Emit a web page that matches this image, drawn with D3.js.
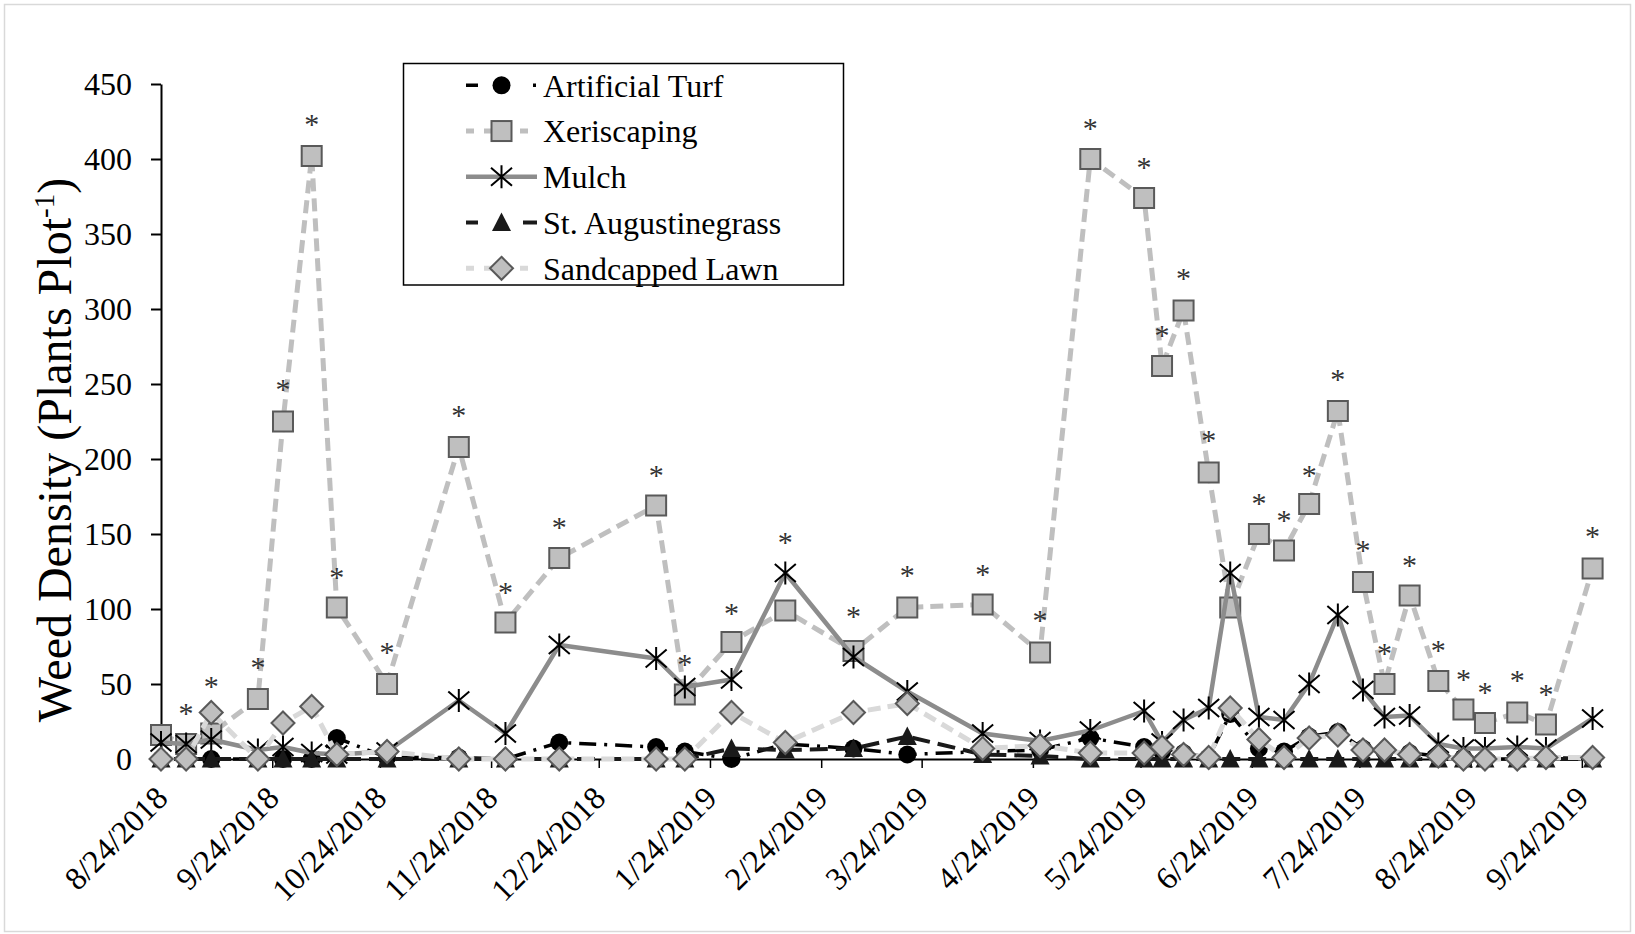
<!DOCTYPE html>
<html><head><meta charset="utf-8">
<script src="https://cdn.jsdelivr.net/npm/d3@7"></script>
<style>
body{margin:0;background:#fff;}
svg{display:block;}
text{font-family:"Liberation Serif","Times New Roman",serif;fill:#000;}
</style>
</head><body>
<svg id="chart" width="1635" height="934"></svg>
<script>
// ---------- DATA ----------
const dates = ["2018-08-24","2018-08-31","2018-09-07","2018-09-20","2018-09-27","2018-10-05","2018-10-12","2018-10-26",
  "2018-11-15","2018-11-28","2018-12-13","2019-01-09","2019-01-17","2019-01-30","2019-02-14","2019-03-05","2019-03-20",
  "2019-04-10","2019-04-26","2019-05-10","2019-05-25","2019-05-30","2019-06-05","2019-06-12","2019-06-18","2019-06-26",
  "2019-07-03","2019-07-10","2019-07-18","2019-07-25","2019-07-31","2019-08-07","2019-08-15","2019-08-22","2019-08-28",
  "2019-09-06","2019-09-14","2019-09-27"];
const artificialTurf   = [0,0,0,0,0,0,14,1,1,0,11,8,5,0,10,7,3,5,6,14,8,5,4,1,30,7,5,15,18,7,5,4,2,1,0,0,1,0];
const xeriscaping      = [16,10,17,40,225,402,101,50,208,91,134,169,43,78,99,72,101,103,71,400,374,262,299,191,101,150,139,170,232,118,50,109,52,33,24,31,23,127];
const mulch            = [11,10,13,6,8,4,3,5,39,17,76,67,48,53,124,68,45,17,12,19,32,11,26,34,124,28,26,50,96,46,28,29,10,7,7,8,7,27];
const stAugustinegrass = [0,0,0,0,0,0,0,0,0,0,0,0,0,7,6,7,15,3,2,0,0,0,0,0,0,0,0,0,0,0,0,0,0,0,0,0,0,0];
const sandcappedLawn   = [0,0,31,0,24,35,3,5,0,0,0,0,0,31,11,31,37,7,9,4,4,8,3,1,34,13,1,14,16,6,6,3,2,0,0,0,1,1];
// height (plants plot-1) at which each significance asterisk sits; null = none
const asteriskHeights  = [null,34,52,65,250,427,125,75,233,115,158,193,67,101,148,99,126,127,96,424,398,286,324,216,null,174,163,193,257,143,74,133,76,57,48,56,47,152];
const yTickValues = [0,50,100,150,200,250,300,350,400,450];
const xTickDates = ["2018-08-24","2018-09-24","2018-10-24","2018-11-24","2018-12-24","2019-01-24","2019-02-24",
  "2019-03-24","2019-04-24","2019-05-24","2019-06-24","2019-07-24","2019-08-24","2019-09-24"];
const seriesNames = ["Artificial Turf","Xeriscaping","Mulch","St. Augustinegrass","Sandcapped Lawn"];
const yTitle = "Weed Density (Plants Plot";

// ---------- STYLES ----------
const styles = [
  {stroke:"#000000", width:3.5, dash:"17,8,3,8", marker:"circle"},
  {stroke:"#bfbfbf", width:5,   dash:"13,7",     marker:"square"},
  {stroke:"#8c8c8c", width:4.5, dash:null,       marker:"star"},
  {stroke:"#1a1a1a", width:4,   dash:"18,8",     marker:"triangle"},
  {stroke:"#d9d9d9", width:5,   dash:"13,7",     marker:"diamond"}
];
const seriesValues = [artificialTurf, xeriscaping, mulch, stAugustinegrass, sandcappedLawn];

const svg = d3.select("#chart");
const parse = d3.utcParse("%Y-%m-%d");
const dateObjs = dates.map(parse);

// outer frame
svg.append("rect").attr("x",4.5).attr("y",4.5).attr("width",1626).attr("height",927)
  .attr("fill","#fff").attr("stroke","#d9d9d9").attr("stroke-width",1.5);

const x = d3.scaleUtc().domain([dateObjs[0], dateObjs[dateObjs.length-1]]).range([161, 1592.6]);
const y = d3.scaleLinear().domain([0,450]).range([759,84]);

// y axis
const yAxis = svg.append("g").attr("transform","translate(161,0)")
  .call(d3.axisLeft(y).tickValues(yTickValues).tickSize(10).tickSizeOuter(0).tickPadding(19).tickFormat(d3.format("d")));
yAxis.select(".domain").attr("stroke","#000").attr("stroke-width",2);
yAxis.selectAll(".tick line").attr("stroke","#000").attr("stroke-width",2);
yAxis.selectAll(".tick text").attr("font-size",32).attr("fill","#000");

// x axis
const xAxis = svg.append("g").attr("transform","translate(0,759)")
  .call(d3.axisBottom(x).tickValues(xTickDates.map(parse)).tickSize(9).tickSizeOuter(0)
    .tickFormat(d3.utcFormat("%-m/%-d/%Y")));
xAxis.select(".domain").attr("stroke","#000").attr("stroke-width",2);
xAxis.selectAll(".tick line").attr("stroke","#000").attr("stroke-width",1.5);
xAxis.selectAll(".tick text").attr("font-size",32).attr("fill","#000")
  .attr("text-anchor","end").attr("x",0).attr("y",0).attr("dy",0)
  .attr("transform","translate(8,41) rotate(-45)");

// y title
const t = svg.append("text").attr("transform","translate(71,450) rotate(-90)")
  .attr("text-anchor","middle").attr("font-size",48);
t.append("tspan").text(yTitle);
t.append("tspan").attr("font-size",29).attr("dy",-17).text("-1");
t.append("tspan").attr("dy",17).text(")");

// markers
function drawMarker(g, type, cx, cy) {
  if (type === "circle") {
    g.append("circle").attr("cx",cx).attr("cy",cy).attr("r",9).attr("fill","#000");
  } else if (type === "square") {
    g.append("rect").attr("x",cx-10).attr("y",cy-10).attr("width",20).attr("height",20)
      .attr("fill","#bfbfbf").attr("stroke","#595959").attr("stroke-width",2);
  } else if (type === "star") {
    g.append("path").attr("d",`M${cx-10.5},${cy-9}L${cx+10.5},${cy+9}M${cx-10.5},${cy+9}L${cx+10.5},${cy-9}M${cx},${cy-11.5}L${cx},${cy+11.5}`)
      .attr("stroke","#000").attr("stroke-width",2).attr("fill","none");
  } else if (type === "triangle") {
    g.append("path").attr("d",`M${cx},${cy-10}L${cx+9.5},${cy+8.5}L${cx-9.5},${cy+8.5}Z`).attr("fill","#1a1a1a");
  } else if (type === "diamond") {
    g.append("path").attr("d",`M${cx},${cy-11.5}L${cx+11.5},${cy}L${cx},${cy+11.5}L${cx-11.5},${cy}Z`)
      .attr("fill","#bfbfbf").attr("stroke","#595959").attr("stroke-width",2);
  }
}

const line = d3.line().x((d,i)=>x(dateObjs[i])).y(d=>y(d));
const plot = svg.append("g");
seriesValues.forEach((vals, si) => {
  const st = styles[si];
  const g = plot.append("g");
  g.append("path").attr("d", line(vals)).attr("fill","none").attr("stroke",st.stroke)
    .attr("stroke-width",st.width).attr("stroke-dasharray",st.dash).attr("stroke-linejoin","round");
  vals.forEach((v,i) => drawMarker(g, st.marker, x(dateObjs[i]), y(v)));
});

// asterisks
svg.append("g").selectAll("text").data(asteriskHeights.map((h,i)=>({h,i})).filter(d=>d.h!==null))
  .join("text").attr("x",d=>x(dateObjs[d.i])).attr("y",d=>y(d.h)+15)
  .attr("text-anchor","middle").attr("font-size",30).style("fill","#333").text("*");

// legend
const lg = svg.append("g");
lg.append("rect").attr("x",403.5).attr("y",63.5).attr("width",440).attr("height",221.5)
  .attr("fill","#fff").attr("stroke","#000").attr("stroke-width",1.5);
const legendDash = ["12,55,3,10", "8,10", null, "12,45,14", "8,10"];
seriesNames.forEach((name, si) => {
  const cy = 85.3 + si*45.75;
  const st = styles[si];
  lg.append("line").attr("x1",466).attr("x2",537).attr("y1",cy).attr("y2",cy)
    .attr("stroke",st.stroke).attr("stroke-width",st.width).attr("stroke-dasharray",legendDash[si]);
  drawMarker(lg, st.marker, 501.5, cy);
  lg.append("text").attr("x",543).attr("y",cy).attr("dy","0.35em").attr("font-size",32).text(name);
});
</script>
</body></html>
